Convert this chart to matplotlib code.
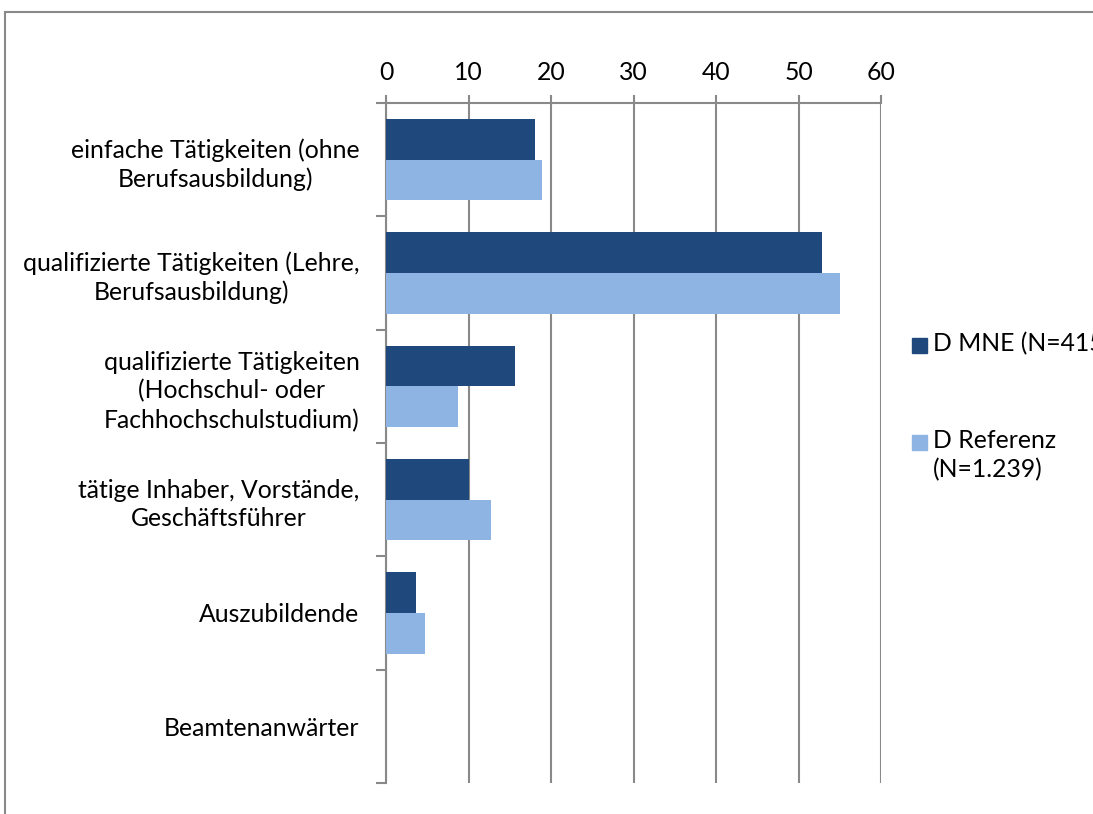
import numpy as np
import matplotlib.pyplot as plt
from matplotlib.patches import Rectangle

plt.rcParams['font.family'] = ['Lato', 'DejaVu Sans']

# data
categories = ['einfache Tätigkeiten (ohne\nBerufsausbildung)',
              'qualifizierte Tätigkeiten (Lehre,\nBerufsausbildung)',
              'qualifizierte Tätigkeiten\n(Hochschul- oder\nFachhochschulstudium)',
              'tätige Inhaber, Vorstände,\nGeschäftsführer',
              'Auszubildende',
              'Beamtenanwärter']
mne = [18.0, 52.9, 15.6, 10.0, 3.6, 0.0]
referenz = [18.9, 55.0, 8.7, 12.7, 4.7, 0.0]
series_labels = ['D MNE (N=415)', 'D Referenz\n(N=1.239)']
colors = ['#1F497D', '#8EB4E3']
xticks = [0, 10, 20, 30, 40, 50, 60]

W, H = 1093, 814
fs = 17.8
fig = plt.figure(figsize=(W / 100, H / 100), dpi=100)
ax = fig.add_axes([386 / W, 1 - 783 / H, (881 - 386) / W, (783 - 103) / H])

grey = '#898989'
y = np.arange(len(categories))
bh = 0.358
ax.barh(y - bh / 2, mne, height=bh, color=colors[0], linewidth=0, zorder=3)
ax.barh(y + bh / 2, referenz, height=bh, color=colors[1], linewidth=0, zorder=3)

ax.set_xlim(0, 60)
ax.set_ylim(len(categories) - 0.5, -0.5)
ax.xaxis.tick_top()
ax.set_xticks(xticks)
ax.tick_params(axis='x', direction='out', length=6, width=1.5, color=grey,
               labelsize=fs, pad=8)
ax.grid(axis='x', color=grey, linewidth=1.5, zorder=0)

ax.set_yticks(y)
ax.set_yticklabels(categories, fontsize=fs, ha='right', multialignment='center', linespacing=1.3)
ax.tick_params(axis='y', which='major', length=0, pad=19)
ax.set_yticks(np.arange(-0.5, len(categories)), minor=True)
ax.tick_params(axis='y', which='minor', direction='out', length=7, width=1.5, color=grey)

for s in ['right', 'bottom']:
    ax.spines[s].set_visible(False)
for s in ['top', 'left']:
    ax.spines[s].set_color(grey)
    ax.spines[s].set_linewidth(1.5)

# outer chart frame (cut off at the right and bottom)
fig.patches.append(Rectangle((4.5 / W, -0.1), 1.2, 1 - 11.5 / H + 0.1, transform=fig.transFigure,
                             fill=False, edgecolor=grey, linewidth=1.5))

# legend
leg_y = [345, 442]
for lab, col, yy in zip(series_labels, colors, leg_y):
    fig.patches.append(Rectangle((912 / W, 1 - (yy + 7.5) / H), 15 / W, 15 / H,
                                 transform=fig.transFigure, color=col))
    fig.text(933 / W, 1 - (yy - 13) / H, lab, fontsize=fs, va='top', ha='left', linespacing=1.3)

fig.savefig('out.png', dpi=100)
